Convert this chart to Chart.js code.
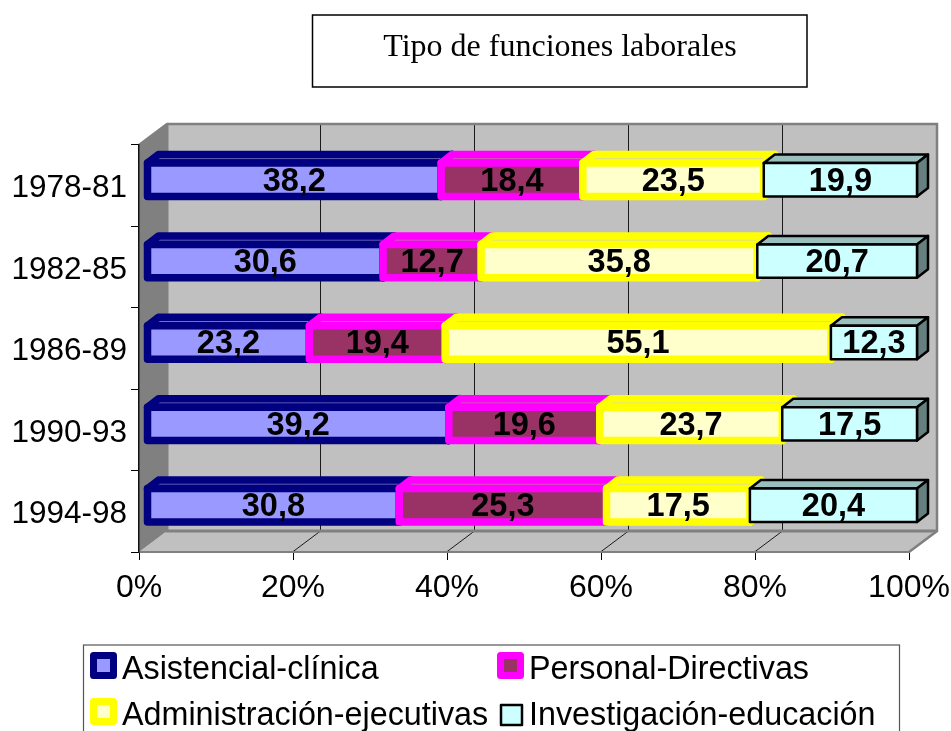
<!DOCTYPE html>
<html>
<head>
<meta charset="utf-8">
<title>Tipo de funciones laborales</title>
<script src="https://cdn.jsdelivr.net/npm/chart.js@4/dist/chart.umd.min.js"></script>
<style>
  html, body { margin: 0; padding: 0; background: #fff; }
  canvas { display: block; }
</style>
</head>
<body>
<canvas id="myChart" width="951" height="731"></canvas>
<script>
const chartTitle = 'Tipo de funciones laborales';
const periods = ['1978-81', '1982-85', '1986-89', '1990-93', '1994-98'];
const seriesNames = ['Asistencial-clínica', 'Personal-Directivas', 'Administración-ejecutivas', 'Investigación-educación'];
const asistencial = [38.2, 30.6, 23.2, 39.2, 30.8];
const personal = [18.4, 12.7, 19.4, 19.6, 25.3];
const administracion = [23.5, 35.8, 55.1, 23.7, 17.5];
const investigacion = [19.9, 20.7, 12.3, 17.5, 20.4];
const percentTicks = [0, 20, 40, 60, 80, 100];

const seriesValues = [asistencial, personal, administracion, investigacion];
const totals = periods.map((p, i) => seriesValues.reduce((sum, s) => sum + s[i], 0));

// stroke, fill, top face, side face of each series
const styles = [
    { stroke: '#000080', fill: '#9999FF', top: '#7373BF', side: '#5C5C99', width: 7.5 },
    { stroke: '#FF00FF', fill: '#993366', top: '#BF73A0', side: '#5C1F3D', width: 7.5 },
    { stroke: '#FFFF00', fill: '#FFFFCC', top: '#D9D9A6', side: '#99997A', width: 7.5 },
    { stroke: '#000000', fill: '#CCFFFF', top: '#99BFBF', side: '#668080', width: 2.5 }
];

// oblique projection of the 3D box
const WALL_DX = 28, WALL_DY = -21;
const BAR_DX = 8, BAR_DY = -6;
const BOX_DX = 11, BOX_DY = -8.5;

function poly(ctx, pts) {
    ctx.beginPath();
    pts.forEach((p, i) => i ? ctx.lineTo(p[0], p[1]) : ctx.moveTo(p[0], p[1]));
    ctx.closePath();
}

const box3d = {
    id: 'box3d',
    // walls and floor behind everything
    beforeDraw(chart) {
        const { ctx, chartArea: a, scales } = chart;
        const backL = a.left + WALL_DX, backR = a.right + WALL_DX;
        const backT = a.top + WALL_DY, backB = a.bottom + WALL_DY;
        ctx.save();
        ctx.fillStyle = '#C0C0C0';
        ctx.fillRect(backL, backT, backR - backL, backB - backT);
        poly(ctx, [[a.left, a.bottom], [a.right, a.bottom], [backR, backB], [backL, backB]]);
        ctx.fill();
        ctx.fillStyle = '#808080';
        poly(ctx, [[a.left, a.top], [backL, backT], [backL, backB], [a.left, a.bottom]]);
        ctx.fill();

        ctx.strokeStyle = '#1a1a1a';
        ctx.lineWidth = 1;
        percentTicks.slice(1, -1).forEach(t => {
            const x = Math.round(scales.x.getPixelForValue(t)) - 0.5;
            ctx.beginPath();
            ctx.moveTo(x + WALL_DX, backT);
            ctx.lineTo(x + WALL_DX, backB);
            ctx.lineTo(x, a.bottom);
            ctx.stroke();
        });

        ctx.strokeStyle = '#808080';
        ctx.lineWidth = 2.5;
        ctx.beginPath();
        ctx.moveTo(a.left, a.top);
        ctx.lineTo(backL, backT);
        ctx.lineTo(backR, backT);
        ctx.lineTo(backR, backB);
        ctx.lineTo(a.right, a.bottom);
        ctx.stroke();
        ctx.beginPath();
        ctx.moveTo(backL, backT);
        ctx.lineTo(backL, backB);
        ctx.lineTo(backR, backB);
        ctx.lineWidth = 3;
        ctx.stroke();
        ctx.restore();
    },
    // each bar is drawn as a box from its element position, first series first.
    // returning false skips the library's flat bars
    beforeDatasetsDraw(chart) {
        const { ctx } = chart;
        ctx.save();
        ctx.lineJoin = 'round';
        chart.data.datasets.forEach((ds, d) => {
            const st = styles[d];
            ctx.lineWidth = st.width;
            ctx.strokeStyle = st.stroke;
            chart.getDatasetMeta(d).data.forEach(bar => {
                const l = bar.base + BAR_DX, r = bar.x + BAR_DX;
                const t = bar.y - bar.height / 2 + BAR_DY, b = bar.y + bar.height / 2 + BAR_DY;
                ctx.fillStyle = st.top;
                poly(ctx, [[l, t], [l + BOX_DX, t + BOX_DY], [r + BOX_DX, t + BOX_DY], [r, t]]);
                ctx.fill();
                ctx.stroke();
                ctx.fillStyle = st.side;
                poly(ctx, [[r, t], [r + BOX_DX, t + BOX_DY], [r + BOX_DX, b + BOX_DY], [r, b]]);
                ctx.fill();
                ctx.stroke();
                ctx.fillStyle = st.fill;
                poly(ctx, [[l, t], [r, t], [r, b], [l, b]]);
                ctx.fill();
                ctx.stroke();
            });
        });

        ctx.font = 'bold 32.5px "Liberation Sans"';
        ctx.fillStyle = '#000';
        ctx.textAlign = 'center';
        ctx.textBaseline = 'middle';
        chart.data.datasets.forEach((ds, d) => {
            chart.getDatasetMeta(d).data.forEach((bar, i) => {
                const label = seriesValues[d][i].toFixed(1).replace('.', ',');
                ctx.fillText(label, (bar.base + bar.x) / 2 + BAR_DX, bar.y + BAR_DY + 2);
            });
        });
        ctx.restore();
        return false;
    },
    afterDraw(chart) {
        const { ctx } = chart;
        ctx.save();
        // title box
        ctx.strokeStyle = '#000';
        ctx.lineWidth = 1.5;
        ctx.strokeRect(312.5, 15, 494.5, 72);
        ctx.font = '32px "Liberation Serif"';
        ctx.fillStyle = '#000';
        ctx.textAlign = 'center';
        ctx.textBaseline = 'middle';
        ctx.fillText(chartTitle, 560, 48);

        // legend box, runs off the bottom of the page
        ctx.strokeStyle = '#555';
        ctx.lineWidth = 1.2;
        ctx.strokeRect(83.5, 645, 816, 120);
        const columns = [90, 497];
        const rows = [652, 698];
        ctx.font = '32.3px "Liberation Sans"';
        ctx.textAlign = 'left';
        seriesNames.forEach((name, i) => {
            const x = columns[i % 2], y = rows[Math.floor(i / 2)];
            const st = styles[i];
            ctx.lineJoin = 'round';
            ctx.strokeStyle = st.stroke;
            ctx.fillStyle = st.fill;
            if (i === 3) {
                ctx.lineWidth = 2.5;
                ctx.fillRect(x + 4, y + 7, 21, 20);
                ctx.strokeRect(x + 4, y + 7, 21, 20);
            } else {
                ctx.lineWidth = 7;
                ctx.fillRect(x + 3.5, y + 3.5, 20, 20);
                ctx.strokeRect(x + 3.5, y + 3.5, 20, 20);
            }
            ctx.fillStyle = '#000';
            ctx.fillText(name, x + 32, y + 18);
        });
        ctx.restore();
    }
};

new Chart(document.getElementById('myChart').getContext('2d'), {
    type: 'bar',
    data: {
        labels: periods,
        datasets: seriesNames.map((name, i) => ({
            label: name,
            data: seriesValues[i].map((v, p) => v / totals[p] * 100),
            backgroundColor: styles[i].fill,
            borderColor: styles[i].stroke,
            barPercentage: 0.41,
            categoryPercentage: 1
        }))
    },
    options: {
        indexAxis: 'y',
        responsive: false,
        animation: false,
        layout: { autoPadding: false, padding: { left: 0, right: 42, top: 145, bottom: 119 } },
        plugins: {
            legend: { display: false },
            title: { display: false },
            tooltip: { enabled: false }
        },
        scales: {
            x: {
                stacked: true,
                min: 0,
                max: 100,
                afterFit: scale => { scale.height = 60; scale.paddingLeft = 0; scale.paddingRight = 0; },
                afterBuildTicks: scale => { scale.ticks = percentTicks.map(value => ({ value })); },
                ticks: {
                    color: '#000',
                    maxRotation: 0,
                    padding: 9,
                    font: { family: '"Liberation Sans"', size: 32 },
                    callback: v => v + '%'
                },
                grid: { drawOnChartArea: false, drawTicks: true, tickLength: 8, color: '#000' },
                border: { display: true, color: '#808080', width: 2 }
            },
            y: {
                stacked: true,
                afterFit: scale => { scale.width = 139; },
                ticks: {
                    color: '#000',
                    padding: 4,
                    labelOffset: 3,
                    font: { family: '"Liberation Sans"', size: 31.5 }
                },
                grid: { drawOnChartArea: false, drawTicks: true, tickLength: 8, color: '#000' },
                border: { display: true, color: '#111', width: 1.5 }
            }
        }
    },
    plugins: [box3d]
});
</script>
</body>
</html>
